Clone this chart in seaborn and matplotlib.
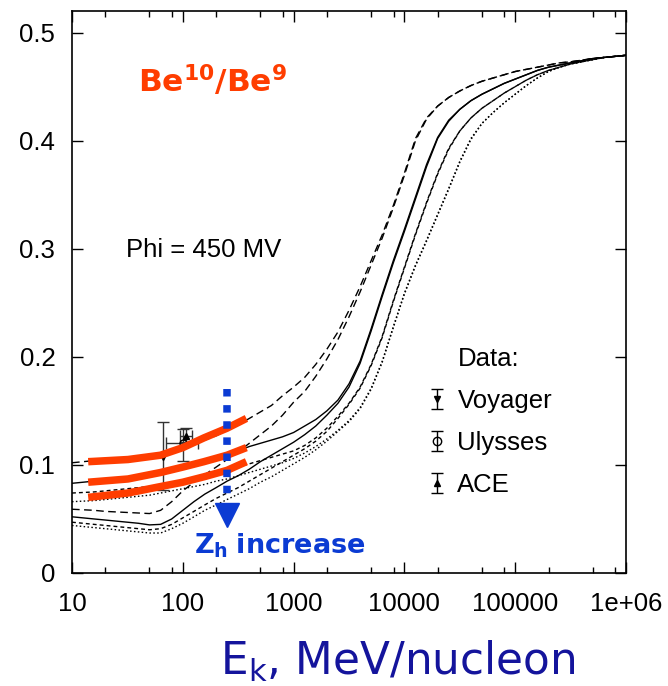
import numpy as np
import pandas as pd
import matplotlib
matplotlib.use("Agg")
import matplotlib.pyplot as plt
from matplotlib.ticker import FixedLocator, NullFormatter, NullLocator
from matplotlib.container import ErrorbarContainer
from matplotlib.legend_handler import HandlerErrorbar
from matplotlib.lines import Line2D
import seaborn as sns

# kinetic energy grid (MeV/nucleon), 10 points per decade
energy = [10, 12.6, 15.8, 20, 25.1, 31.6, 39.8, 50.1, 63.1, 79.4,
          100, 126, 158, 200, 251, 316, 398, 501, 631, 794,
          1000, 1259, 1585, 1995, 2512, 3162, 3981, 5012, 6310, 7943,
          1e4, 1.259e4, 1.585e4, 1.995e4, 2.512e4, 3.162e4, 3.981e4, 5.012e4, 6.31e4, 7.943e4,
          1e5, 1.259e5, 1.585e5, 1.995e5, 2.512e5, 3.162e5, 3.981e5, 5.012e5, 6.31e5, 7.943e5,
          1e6]

# Be10/Be9 model curves: four halo heights, each with two low-energy variants
long_dash_a = [0.102, 0.103, 0.104, 0.105, 0.106, 0.107, 0.108, 0.109, 0.111, 0.113,
               0.116, 0.119, 0.123, 0.127, 0.132, 0.137, 0.143, 0.149, 0.155, 0.164,
               0.172, 0.181, 0.193, 0.207, 0.223, 0.243, 0.265, 0.289, 0.313, 0.340,
               0.370, 0.402, 0.421, 0.432, 0.440, 0.446, 0.451, 0.455, 0.458, 0.461,
               0.464, 0.466, 0.468, 0.470, 0.472, 0.473, 0.4745, 0.476, 0.477, 0.478,
               0.479]
long_dash_b = [0.059, 0.0585, 0.058, 0.057, 0.0565, 0.056, 0.0555, 0.055, 0.058, 0.066,
               0.076, 0.084, 0.091, 0.098, 0.105, 0.112, 0.120, 0.128, 0.136, 0.146,
               0.158, 0.168, 0.182, 0.198, 0.216, 0.237, 0.260, 0.285, 0.310, 0.338,
               0.368, 0.400, 0.420, 0.432, 0.440, 0.446, 0.451, 0.455, 0.458, 0.461,
               0.464, 0.466, 0.468, 0.470, 0.472, 0.473, 0.4745, 0.476, 0.477, 0.478,
               0.479]
solid_a = [0.083, 0.084, 0.085, 0.086, 0.087, 0.088, 0.089, 0.091, 0.093, 0.095,
           0.097, 0.100, 0.103, 0.106, 0.109, 0.113, 0.117, 0.120, 0.123, 0.126,
           0.130, 0.136, 0.142, 0.150, 0.160, 0.175, 0.196, 0.226, 0.258, 0.289,
           0.318, 0.348, 0.378, 0.403, 0.419, 0.429, 0.437, 0.443, 0.448, 0.453,
           0.457, 0.461, 0.465, 0.468, 0.470, 0.472, 0.474, 0.476, 0.477, 0.478,
           0.479]
solid_b = [0.052, 0.051, 0.050, 0.049, 0.048, 0.047, 0.046, 0.0445, 0.045, 0.050,
           0.058, 0.066, 0.073, 0.079, 0.085, 0.090, 0.096, 0.103, 0.109, 0.115,
           0.121, 0.128, 0.136, 0.146, 0.157, 0.172, 0.194, 0.224, 0.256, 0.287,
           0.316, 0.346, 0.376, 0.402, 0.418, 0.429, 0.437, 0.443, 0.448, 0.453,
           0.457, 0.461, 0.465, 0.468, 0.470, 0.472, 0.474, 0.476, 0.477, 0.478,
           0.479]
short_dash_a = [0.074, 0.0745, 0.075, 0.076, 0.077, 0.078, 0.079, 0.080, 0.082, 0.084,
                0.086, 0.088, 0.090, 0.093, 0.095, 0.098, 0.101, 0.104, 0.107, 0.110,
                0.113, 0.118, 0.125, 0.134, 0.145, 0.157, 0.172, 0.193, 0.219, 0.252,
                0.283, 0.314, 0.343, 0.370, 0.393, 0.409, 0.421, 0.430, 0.437, 0.444,
                0.450, 0.456, 0.461, 0.465, 0.468, 0.471, 0.473, 0.475, 0.477, 0.478,
                0.479]
short_dash_b = [0.047, 0.046, 0.045, 0.044, 0.043, 0.042, 0.041, 0.040, 0.041, 0.045,
                0.051, 0.057, 0.063, 0.069, 0.074, 0.079, 0.085, 0.091, 0.097, 0.103,
                0.109, 0.115, 0.122, 0.131, 0.143, 0.156, 0.171, 0.192, 0.218, 0.251,
                0.282, 0.313, 0.342, 0.369, 0.392, 0.409, 0.421, 0.430, 0.437, 0.444,
                0.450, 0.456, 0.461, 0.465, 0.468, 0.471, 0.473, 0.475, 0.477, 0.478,
                0.479]
dotted_a = [0.066, 0.0665, 0.067, 0.068, 0.069, 0.070, 0.071, 0.072, 0.074, 0.076,
            0.078, 0.080, 0.082, 0.085, 0.087, 0.090, 0.093, 0.096, 0.099, 0.102,
            0.106, 0.111, 0.117, 0.124, 0.132, 0.141, 0.153, 0.171, 0.196, 0.228,
            0.259, 0.285, 0.308, 0.332, 0.356, 0.381, 0.402, 0.416, 0.426, 0.435,
            0.443, 0.451, 0.458, 0.464, 0.468, 0.471, 0.473, 0.475, 0.477, 0.478,
            0.479]
dotted_b = [0.044, 0.043, 0.042, 0.041, 0.040, 0.039, 0.038, 0.037, 0.037, 0.041,
            0.046, 0.052, 0.058, 0.063, 0.068, 0.073, 0.078, 0.084, 0.089, 0.095,
            0.101, 0.107, 0.114, 0.122, 0.131, 0.140, 0.152, 0.170, 0.195, 0.227,
            0.258, 0.284, 0.307, 0.331, 0.355, 0.380, 0.401, 0.416, 0.426, 0.435,
            0.443, 0.451, 0.458, 0.464, 0.468, 0.471, 0.473, 0.475, 0.477, 0.478,
            0.479]

# highlighted bands (red strokes)
band_energy = [14, 32, 63, 100, 155, 251, 375]
band_top = [0.103, 0.105, 0.109, 0.116, 0.125, 0.134, 0.143]
band_mid = [0.084, 0.087, 0.093, 0.098, 0.103, 0.109, 0.116]
band_low = [0.070, 0.074, 0.080, 0.084, 0.089, 0.095, 0.103]

# measurements
voyager_e, voyager_v, voyager_lo, voyager_hi = [66], [0.107], [0.077], [0.140]
ulysses_e, ulysses_v = [100], [0.120]
ulysses_elo, ulysses_ehi, ulysses_lo, ulysses_hi = [70], [137], [0.104], [0.133]
ace_e, ace_v = [106], [0.127]
ace_elo, ace_ehi, ace_lo, ace_hi = [95], [122], [0.121], [0.134]

# arrow marking increasing halo height
arrow_energy = 252
arrow_top, arrow_bottom, arrow_head = 0.170, 0.072, 0.0535

x_major = [10, 100, 1000, 10000, 100000, 1000000]
x_major_labels = ["10", "100", "1000", "10000", "100000", "1e+06"]
y_major = [0, 0.1, 0.2, 0.3, 0.4, 0.5]
y_major_labels = ["0", "0.1", "0.2", "0.3", "0.4", "0.5"]

series = {
    ("long", "a"): long_dash_a, ("long", "b"): long_dash_b,
    ("solid", "a"): solid_a, ("solid", "b"): solid_b,
    ("short", "a"): short_dash_a, ("short", "b"): short_dash_b,
    ("dot", "a"): dotted_a, ("dot", "b"): dotted_b,
}
rows = []
for (halo, member), vals in series.items():
    for e, v in zip(energy, vals):
        rows.append({"energy": e, "ratio": v, "halo": halo, "member": halo + member})
df = pd.DataFrame(rows)

sns.set_theme(style="ticks")
plt.rcParams["font.family"] = ["Liberation Sans", "DejaVu Sans"]
plt.rcParams["mathtext.fontset"] = "dejavusans"
plt.rcParams["text.color"] = "black"

FS = 18.5
fig = plt.figure(figsize=(6.68, 6.86), dpi=100)
fig.patch.set_facecolor("white")
ax = fig.add_axes([72 / 668, 1 - 573 / 686, 554 / 668, 562 / 686])
ax.set_facecolor("white")
ax.set_xscale("log")

dash_map = {"long": (5.5, 3.2), "solid": "", "short": (2.8, 2.2), "dot": (1.1, 1.7)}
sns.lineplot(data=df, x="energy", y="ratio", style="halo", units="member",
             estimator=None, dashes=dash_map, color="black", linewidth=1.0,
             legend=False, sort=False, ax=ax)

red = "#ff3d00"
for band in (band_top, band_mid, band_low):
    ax.plot(band_energy, band, color=red, lw=5.4, solid_capstyle="butt", zorder=5)

# data points
ax.errorbar(voyager_e, voyager_v,
            yerr=[np.subtract(voyager_v, voyager_lo), np.subtract(voyager_hi, voyager_v)],
            fmt="v", ms=4, color="black", ecolor="#333333", elinewidth=1.0, capsize=4.5, zorder=4)
ax.errorbar(ulysses_e, ulysses_v,
            xerr=[np.subtract(ulysses_e, ulysses_elo), np.subtract(ulysses_ehi, ulysses_e)],
            yerr=[np.subtract(ulysses_v, ulysses_lo), np.subtract(ulysses_hi, ulysses_v)],
            fmt="o", ms=5, mfc="none", color="black", ecolor="#333333", elinewidth=1.0, capsize=4.5, zorder=4)
ax.errorbar(ace_e, ace_v,
            xerr=[np.subtract(ace_e, ace_elo), np.subtract(ace_ehi, ace_e)],
            yerr=[np.subtract(ace_v, ace_lo), np.subtract(ace_hi, ace_v)],
            fmt="^", ms=4, color="black", ecolor="#333333", elinewidth=1.0, capsize=4.5, zorder=4)

# arrow
blue = "#0b3bd3"
ax.plot([arrow_energy, arrow_energy], [arrow_top, arrow_bottom], color=blue, lw=5.4,
        ls=(0, (1, 1.15)), solid_capstyle="butt", dash_capstyle="butt", zorder=6)
ax.plot([arrow_energy], [arrow_head], marker="v", ms=17, color=blue, mec=blue, zorder=6)

ax.set_xlim(10, 1e6)
ax.set_ylim(0, 0.52)
ax.set_xticks(x_major, labels=x_major_labels)
ax.xaxis.set_minor_locator(FixedLocator([m * 10 ** d for d in range(1, 6) for m in (2, 5, 8)]))
ax.xaxis.set_minor_formatter(NullFormatter())
ax.set_yticks(y_major, labels=y_major_labels)
ax.yaxis.set_minor_locator(NullLocator())
ax.tick_params(which="both", direction="in", top=True, right=True, colors="black",
               width=1.0, labelsize=FS, labelcolor="black")
ax.tick_params(which="major", length=8, pad=12)
ax.tick_params(axis="x", which="major", pad=14)
ax.tick_params(which="minor", length=4)
for s in ax.spines.values():
    s.set_color("black")
    s.set_linewidth(1.2)
ax.set_xlabel("")
ax.set_ylabel("")

# annotations
ax.text(39.3, 0.445, r"$\mathbf{Be^{10}/Be^{9}}$", color=red, fontsize=22.5, va="baseline", ha="left")
ax.text(30.6, 0.2926, "Phi = 450 MV", fontsize=FS, va="baseline", ha="left")
ax.text(126, 0.0185, r"$\mathbf{Z_{h}}$" + r" $\mathbf{increase}$", color=blue, fontsize=19.5,
        va="baseline", ha="left")

fig.text(0.5 * (218 + 578) / 668, 1 - 661 / 686, r"E$_\mathregular{k}$, MeV/nucleon",
         color="#14149c", fontsize=31.5, ha="center", va="center",
         family=["DejaVu Sans"])

# legend
h_voy = ax.errorbar([np.nan], [np.nan], yerr=[[1], [1]], fmt="v", ms=5, color="black",
                    elinewidth=1.0, capsize=4.5)
h_uly = ax.errorbar([np.nan], [np.nan], yerr=[[1], [1]], fmt="o", ms=6, mfc="none",
                    color="black", elinewidth=1.0, capsize=4.5)
h_ace = ax.errorbar([np.nan], [np.nan], yerr=[[1], [1]], fmt="^", ms=5, color="black",
                    elinewidth=1.0, capsize=4.5)
blank = Line2D([], [], linestyle="none")
leg = ax.legend([blank, h_voy, h_uly, h_ace], ["Data:", "Voyager", "Ulysses", "ACE"],
                loc="upper left", bbox_to_anchor=(0.647, 0.402), frameon=False,
                fontsize=FS, handlelength=0.5, handletextpad=0.55, labelspacing=0.7,
                borderaxespad=0, borderpad=0,
                handler_map={ErrorbarContainer: HandlerErrorbar(xerr_size=0.4)})

fig.savefig("out.png", dpi=100, facecolor="white")
